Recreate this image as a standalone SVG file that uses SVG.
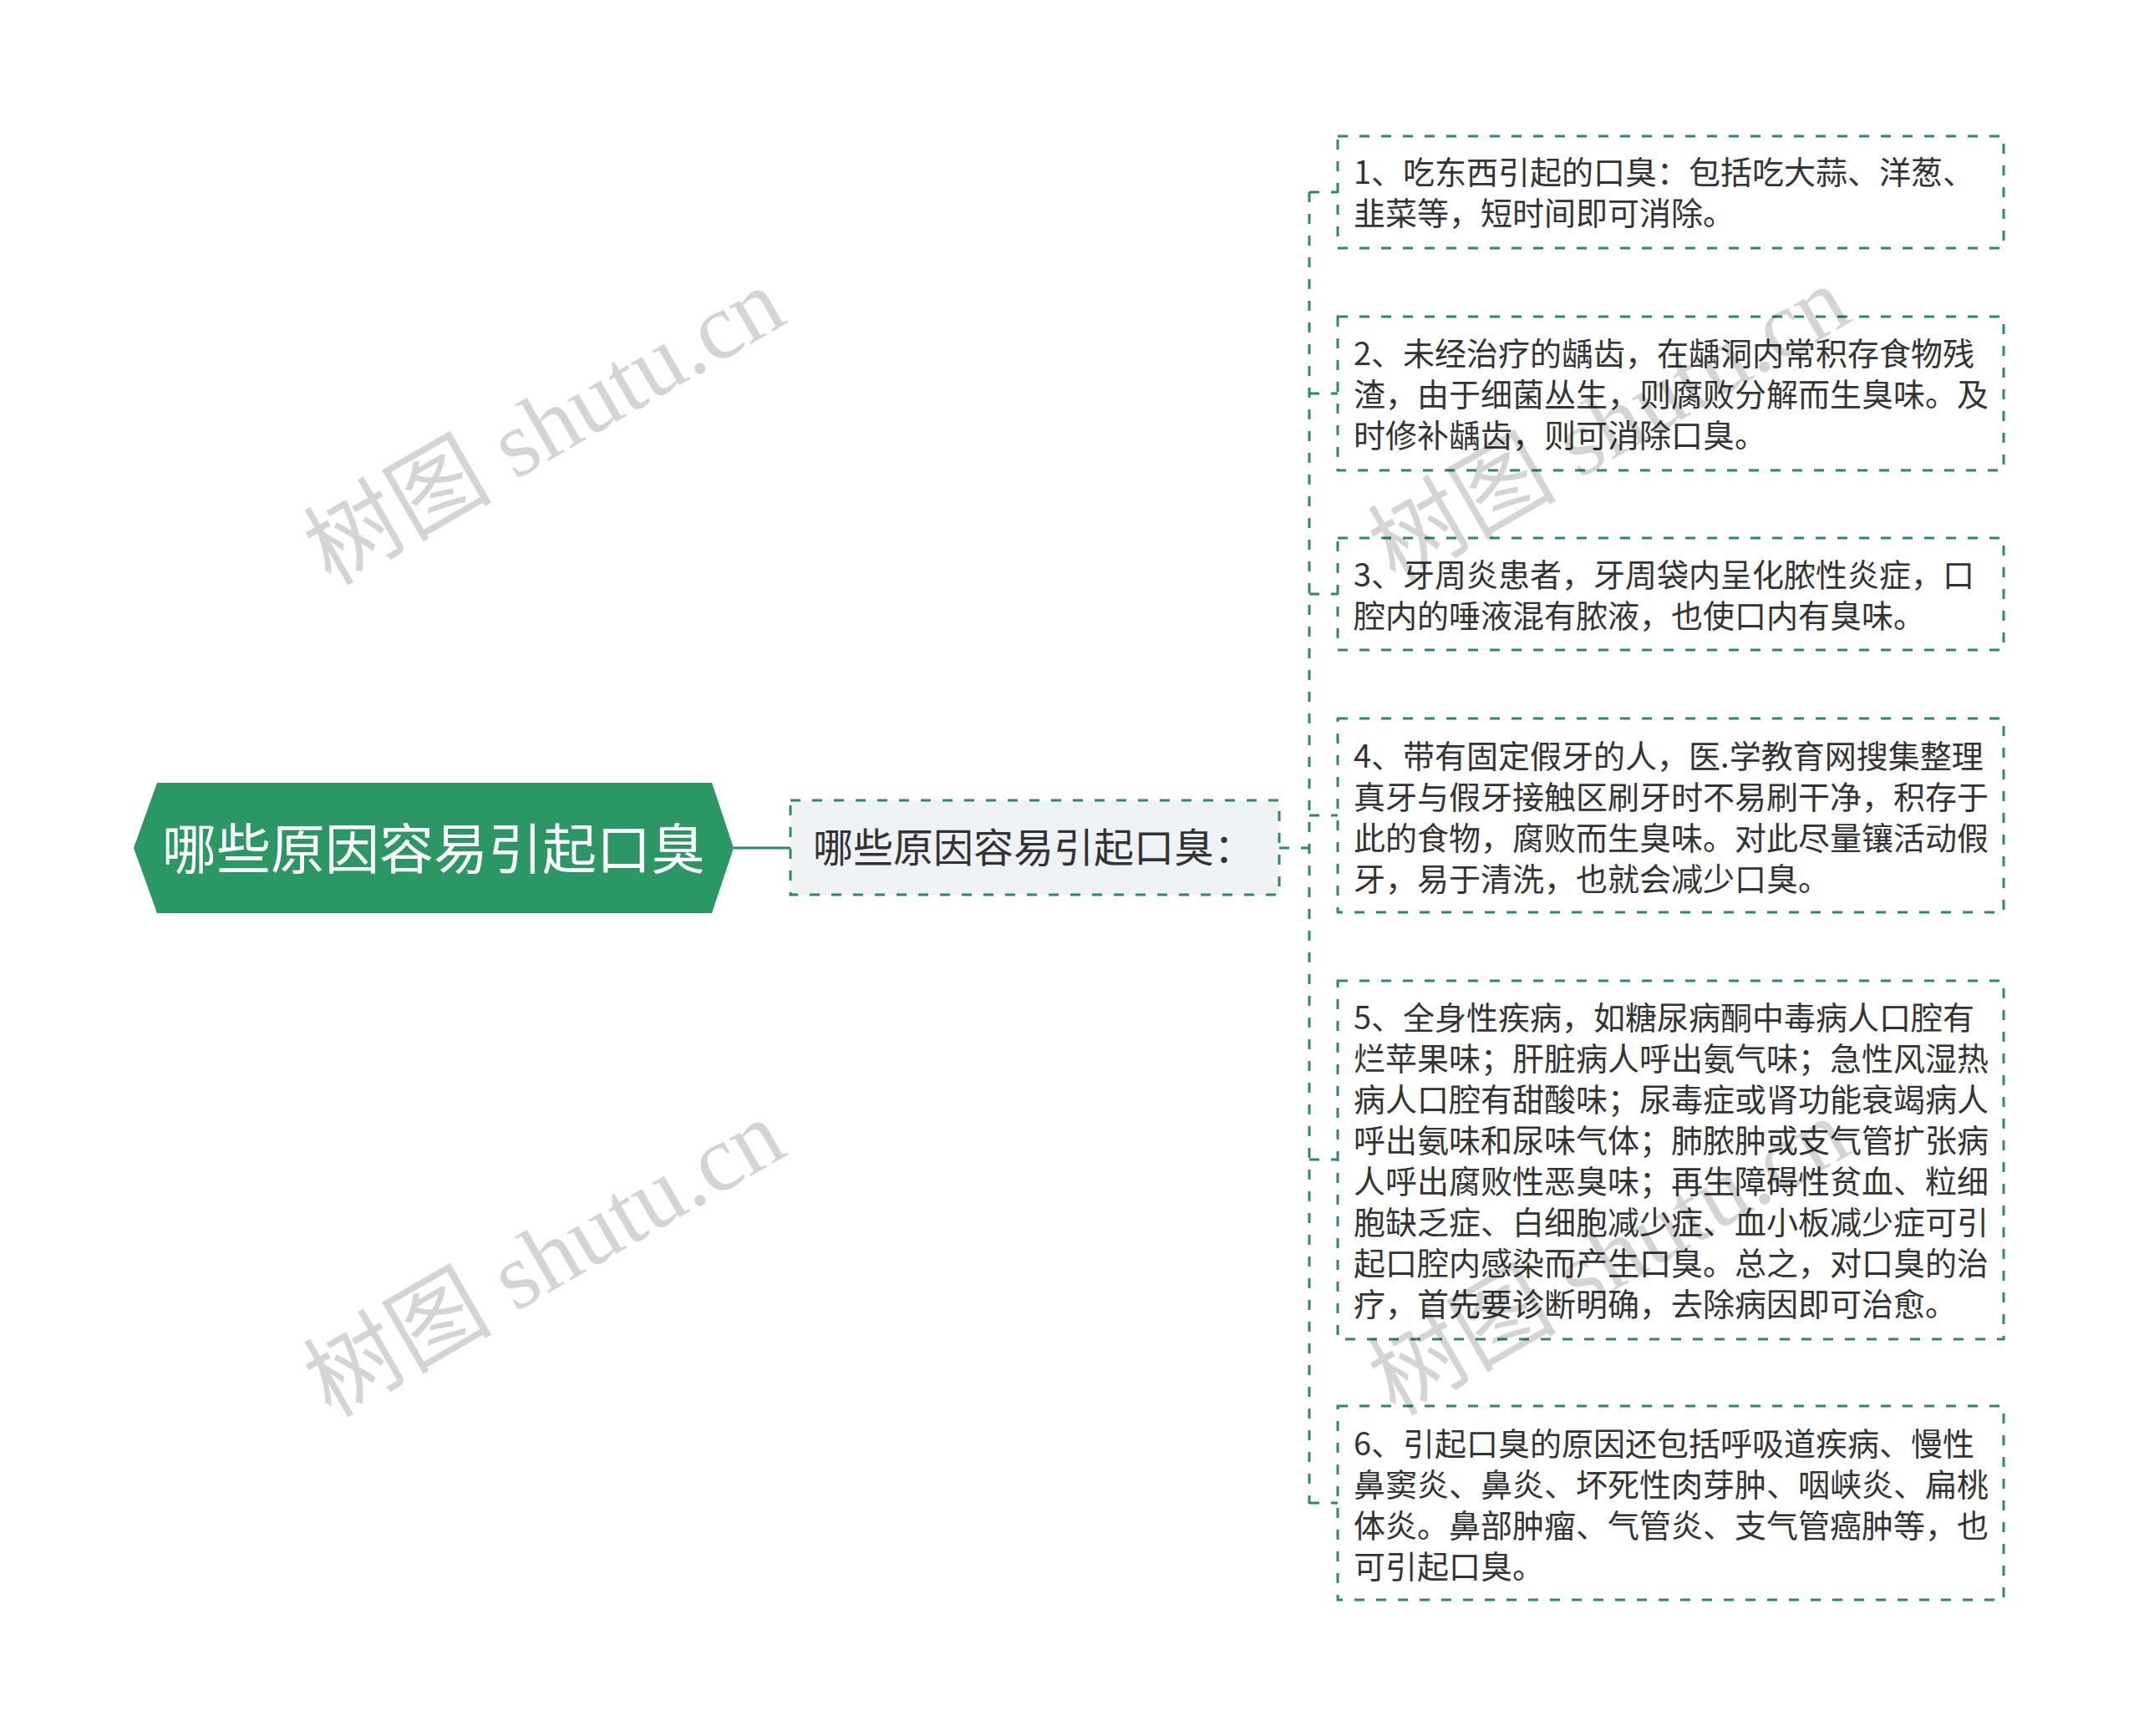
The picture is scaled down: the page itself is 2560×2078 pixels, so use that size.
<svg xmlns="http://www.w3.org/2000/svg" width="2560" height="2078" viewBox="0 0 2560 2078">
<style>
.leafbox{fill:none;stroke:#2a8c5e;stroke-width:3;stroke-dasharray:12 14;}
.dash{fill:none;stroke:#2a8c5e;stroke-width:3;stroke-dasharray:12 14;}
.leaf{font-family:"Noto Sans CJK SC","Noto Sans",sans-serif;font-size:38px;fill:#333333;}
.wm{font-family:"Liberation Serif","Noto Sans CJK SC",serif;font-size:113px;fill:#000000;fill-opacity:0.17;}
</style>
<rect width="2560" height="2078" fill="#ffffff"/>
<g id="connectors">
  <line x1="878" y1="1015" x2="946" y2="1015" stroke="#2a8c5e" stroke-width="3"/>
  <line class="dash" x1="1531" y1="1015" x2="1567" y2="1015"/>
  <line class="dash" x1="1567" y1="230" x2="1567" y2="1800"/>
  <line class="dash" x1="1567" y1="230" x2="1601" y2="230"/>
  <line class="dash" x1="1567" y1="471" x2="1601" y2="471"/>
  <line class="dash" x1="1567" y1="711" x2="1601" y2="711"/>
  <line class="dash" x1="1567" y1="976" x2="1601" y2="976"/>
  <line class="dash" x1="1567" y1="1388" x2="1601" y2="1388"/>
  <line class="dash" x1="1567" y1="1799" x2="1601" y2="1799"/>
</g>
<g id="root">
  <polygon points="160,1015 188,937 852,937 878,1015 852,1093 188,1093" fill="#2a9764"/>
  <text x="519" y="1040" text-anchor="middle" font-family="'Noto Sans CJK SC','Noto Sans',sans-serif" font-size="65" fill="#ffffff">哪些原因容易引起口臭</text>
</g>
<g id="sub">
  <rect x="946" y="958" width="585" height="113" fill="#eef2f5" stroke="#2a8c5e" stroke-width="3" stroke-dasharray="12 14"/>
  <text x="1237" y="1032" text-anchor="middle" font-family="'Noto Sans CJK SC','Noto Sans',sans-serif" font-size="48" fill="#333333">哪些原因容易引起口臭：</text>
</g>
<g id="leaf1">
  <rect class="leafbox" x="1601" y="163" width="797" height="134"/>
  <text class="leaf" x="1620" y="220"><tspan x="1620">1、吃东西引起的口臭：包括吃大蒜、洋葱、</tspan><tspan x="1620" dy="49">韭菜等，短时间即可消除。</tspan></text>
</g>
<g id="leaf2">
  <rect class="leafbox" x="1601" y="379" width="797" height="184"/>
  <text class="leaf" x="1620" y="436.5"><tspan x="1620">2、未经治疗的龋齿，在龋洞内常积存食物残</tspan><tspan x="1620" dy="49">渣，由于细菌丛生，则腐败分解而生臭味。及</tspan><tspan x="1620" dy="49">时修补龋齿，则可消除口臭。</tspan></text>
</g>
<g id="leaf3">
  <rect class="leafbox" x="1601" y="644" width="797" height="134"/>
  <text class="leaf" x="1620" y="702"><tspan x="1620">3、牙周炎患者，牙周袋内呈化脓性炎症，口</tspan><tspan x="1620" dy="49">腔内的唾液混有脓液，也使口内有臭味。</tspan></text>
</g>
<g id="leaf4">
  <rect class="leafbox" x="1601" y="860" width="797" height="232"/>
  <text class="leaf" x="1620" y="919"><tspan x="1620">4、带有固定假牙的人，医.学教育网搜集整理</tspan><tspan x="1620" dy="49">真牙与假牙接触区刷牙时不易刷干净，积存于</tspan><tspan x="1620" dy="49">此的食物，腐败而生臭味。对此尽量镶活动假</tspan><tspan x="1620" dy="49">牙，易于清洗，也就会减少口臭。</tspan></text>
</g>
<g id="leaf5">
  <rect class="leafbox" x="1601" y="1174" width="797" height="429"/>
  <text class="leaf" x="1620" y="1232"><tspan x="1620">5、全身性疾病，如糖尿病酮中毒病人口腔有</tspan><tspan x="1620" dy="49">烂苹果味；肝脏病人呼出氨气味；急性风湿热</tspan><tspan x="1620" dy="49">病人口腔有甜酸味；尿毒症或肾功能衰竭病人</tspan><tspan x="1620" dy="49">呼出氨味和尿味气体；肺脓肿或支气管扩张病</tspan><tspan x="1620" dy="49">人呼出腐败性恶臭味；再生障碍性贫血、粒细</tspan><tspan x="1620" dy="49">胞缺乏症、白细胞减少症、血小板减少症可引</tspan><tspan x="1620" dy="49">起口腔内感染而产生口臭。总之，对口臭的治</tspan><tspan x="1620" dy="49">疗，首先要诊断明确，去除病因即可治愈。</tspan></text>
</g>
<g id="leaf6">
  <rect class="leafbox" x="1601" y="1683" width="797" height="232"/>
  <text class="leaf" x="1620" y="1742"><tspan x="1620">6、引起口臭的原因还包括呼吸道疾病、慢性</tspan><tspan x="1620" dy="49">鼻窦炎、鼻炎、坏死性肉芽肿、咽峡炎、扁桃</tspan><tspan x="1620" dy="49">体炎。鼻部肿瘤、气管炎、支气管癌肿等，也</tspan><tspan x="1620" dy="49">可引起口臭。</tspan></text>
</g>
<g id="watermarks">
  <text class="wm" transform="translate(396,702) rotate(-30)">树图 shutu.cn</text>
  <text class="wm" transform="translate(396,1698) rotate(-30)">树图 shutu.cn</text>
  <text class="wm" transform="translate(1670,700) rotate(-30)">树图 shutu.cn</text>
  <text class="wm" transform="translate(1670,1696) rotate(-30)">树图 shutu.cn</text>
</g>
</svg>
